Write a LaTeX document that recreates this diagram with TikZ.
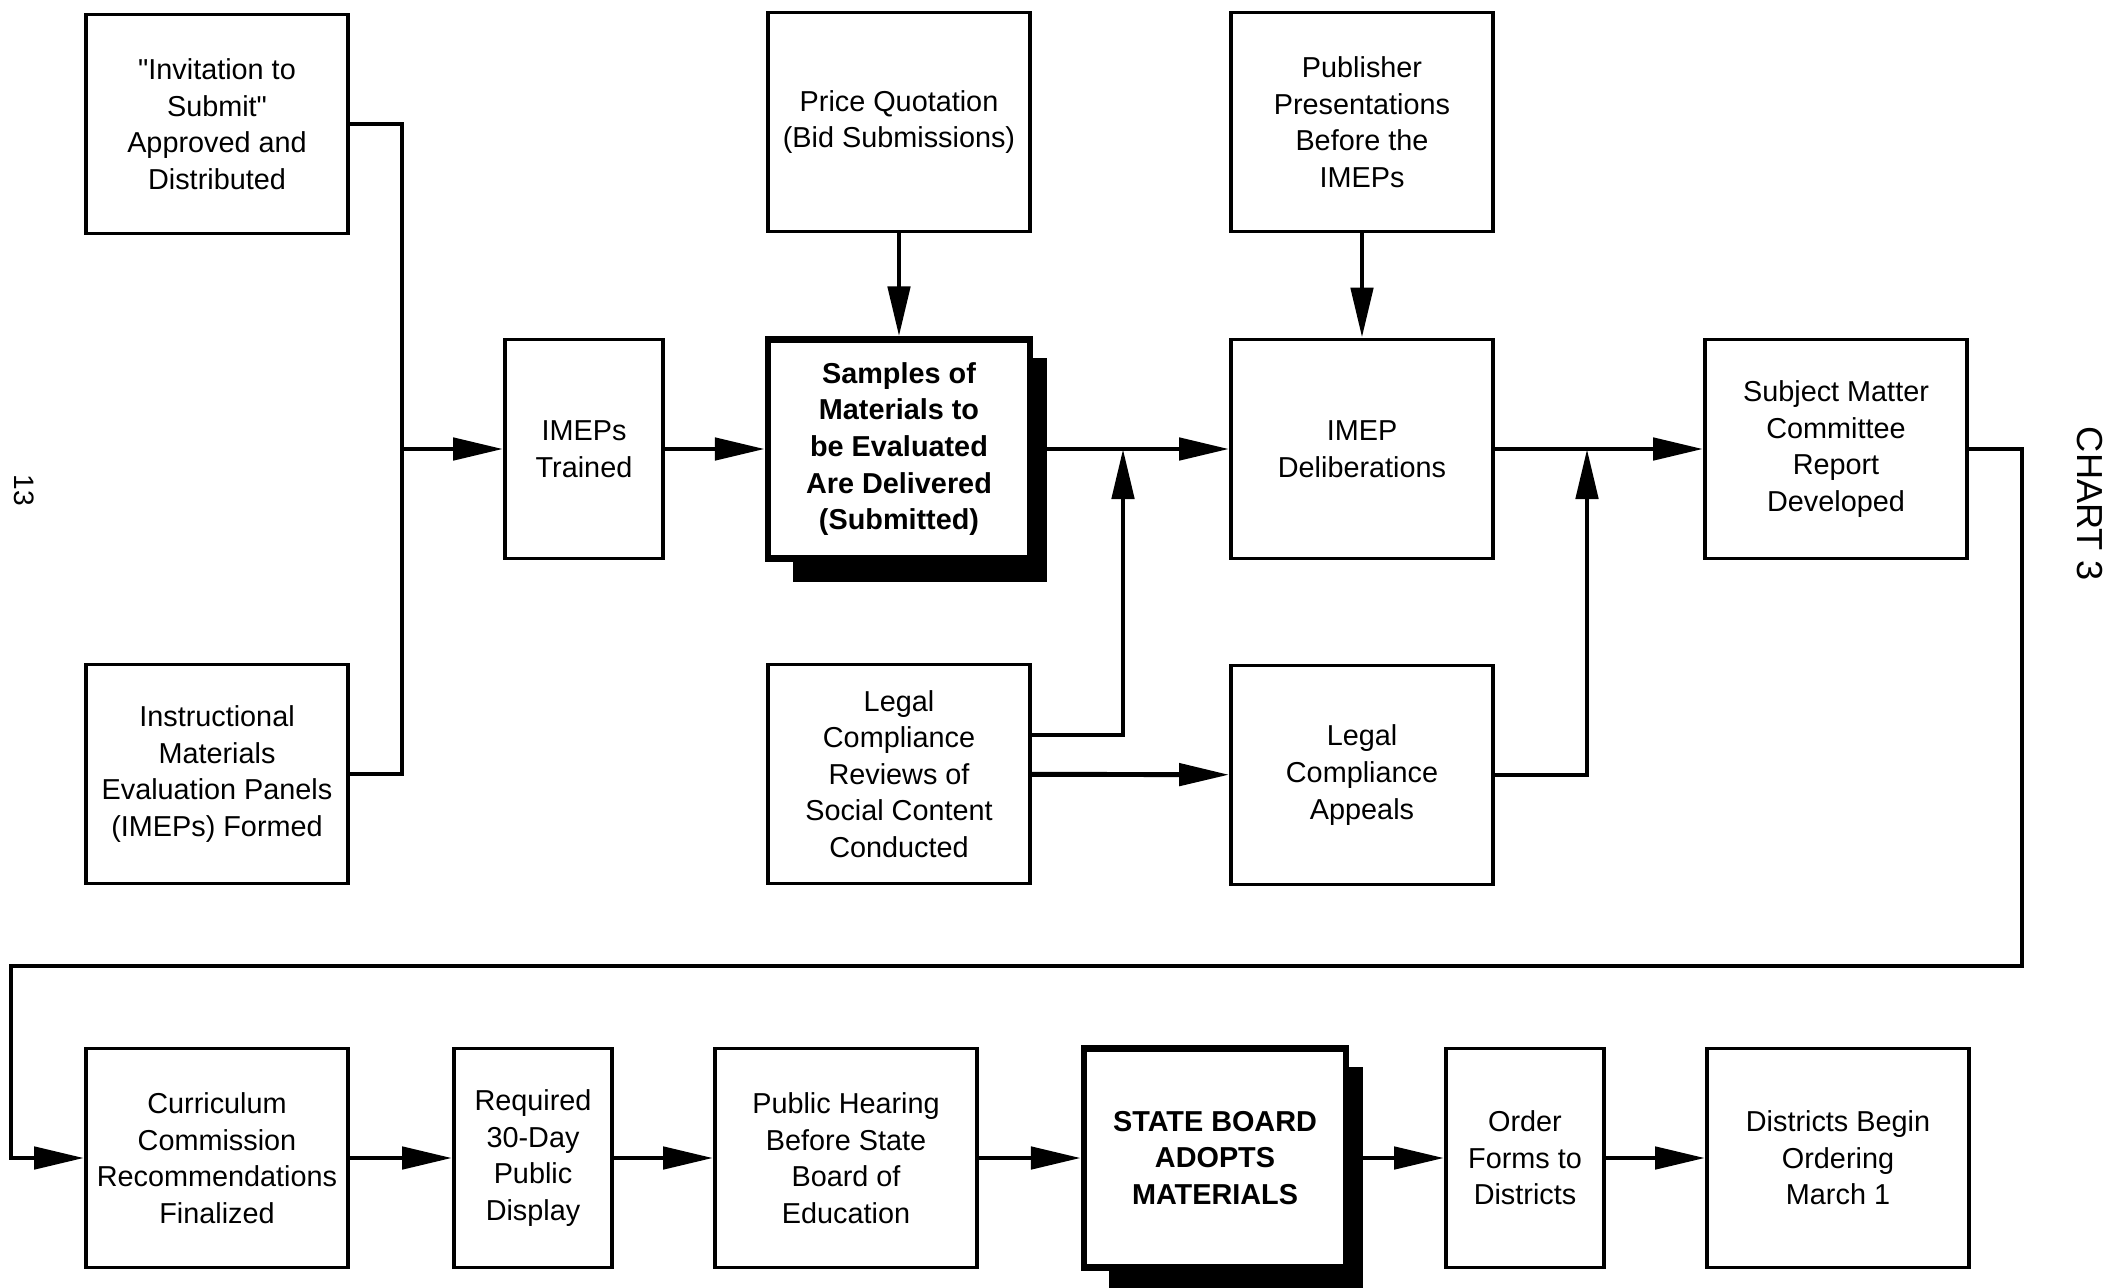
\documentclass[tikz,border=0pt]{standalone}
\usepackage{fontspec}
\setmainfont{Liberation Sans}[Ligatures=TeXOff]
\usepackage{tikz}
\usetikzlibrary{positioning,arrows.meta,backgrounds}

\begin{document}
\begin{tikzpicture}[node distance=3cm,on grid,
    box/.style={draw,line width=1.1pt,fill=white,align=center,inner sep=0pt,
      minimum width=2.62cm,minimum height=2.19cm,font=\fontsize{8.2}{10.4}\selectfont},
    thin box/.style={box,minimum width=1.58cm},
    bold box/.style={box,line width=1.8pt,font=\fontsize{8.2}{10.4}\selectfont\bfseries},
    wire/.style={line width=1.4pt},
    arr/.style={wire,-{Triangle[length=5mm,width=2.2mm]}}]
   \useasboundingbox (0,0) rectangle (21.21,-12.87);
   % upper part
   \node[box] (invite) at (2.17,-1.24) {"Invitation to\\Submit"\\Approved and\\Distributed};
   \node[box] (formed) [below=6.50cm of invite] {Instructional\\Materials\\Evaluation Panels\\(IMEPs) Formed};
   \node[thin box] (trained) at (5.84,-4.49) {IMEPs\\Trained};
   \node[bold box] (samples) [right=3.15cm of trained] {Samples of\\Materials to\\be Evaluated\\Are Delivered\\(Submitted)};
   \node[box] (price) [above=3.27cm of samples] {Price Quotation\\(Bid Submissions)};
   \node[box] (legal) [below=3.25cm of samples] {Legal\\Compliance\\Reviews of\\Social Content\\Conducted};
   \node[box] (delib) [right=4.63cm of samples] {IMEP\\Deliberations};
   \node[box] (publisher) [above=3.27cm of delib] {Publisher\\Presentations\\Before the\\IMEPs};
   \node[box] (appeals) [below=3.26cm of delib] {Legal\\Compliance\\Appeals};
   \node[box] (subject) [right=4.74cm of delib] {Subject Matter\\Committee\\Report\\Developed};
   % bottom row
   \node[box] (curric) at (2.17,-11.58) {Curriculum\\Commission\\Recommendations\\Finalized};
   \node[thin box] (display) [right=3.16cm of curric] {Required\\30-Day\\Public\\Display};
   \node[box] (hearing) [right=3.13cm of display] {Public Hearing\\Before State\\Board of\\Education};
   \node[bold box] (board) [right=3.69cm of hearing] {STATE BOARD\\ADOPTS\\MATERIALS};
   \node[thin box] (order) [right=3.10cm of board] {Order\\Forms to\\Districts};
   \node[box] (districts) [right=3.13cm of order] {Districts Begin\\Ordering\\March 1};
   \begin{scope}[on background layer]
     \foreach \n in {samples,board}
       \fill ([shift={(0.28,-0.2)}]\n.south west) rectangle ([shift={(0.14,-0.22)}]\n.north east);
   \end{scope}
   \coordinate (jl) at (4.02,-4.49);
   \coordinate (jm) at (11.23,-4.49);
   \coordinate (jr) at (15.87,-4.49);
   \coordinate (c1) at (20.22,-9.66);
   \coordinate (c2) at (0.11,-9.66);
   \draw[wire] (invite) -| (jl) |- (formed);
   \draw[arr] (jl) -- (trained);
   \path[arr]
	(trained) edge (samples)
	(price) edge (samples)
	(samples) edge (delib)
	(publisher) edge (delib)
	(legal) edge (appeals)
	(delib) edge (subject)
	(curric) edge (display)
	(display) edge (hearing)
	(hearing) edge (board)
	(board) edge (order)
	(order) edge (districts);
   \draw[arr] ([yshift=3.9mm]legal.east) -| (jm);
   \draw[arr] (appeals) -| (jr);
   \draw[arr] (subject) -| (c1) -- (c2) |- (curric);
   \node[rotate=-90,font=\fontsize{8}{10}\selectfont] (page) at (0.24,-4.9) {13};
   \node[rotate=-90,font=\fontsize{10.3}{12}\selectfont] (chart) at (20.90,-5.04) {CHART 3};
\end{tikzpicture}
\end{document}
